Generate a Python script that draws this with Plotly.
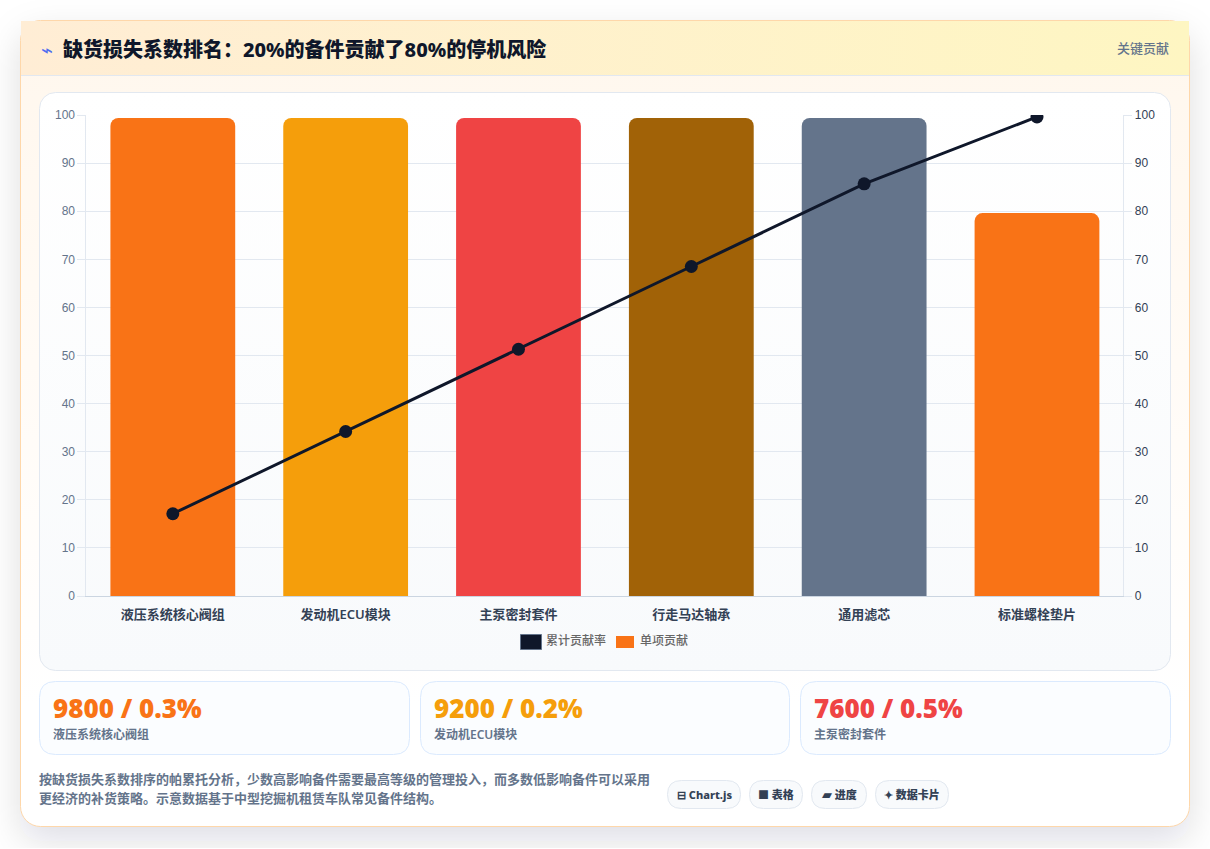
import base64
import plotly.graph_objects as go

W, H = 1210, 849

categories = ["液压系统核心阀组", "发动机ECU模块", "主泵密封套件", "行走马达轴承", "通用滤芯", "标准螺栓垫片"]
contribution = [99.4, 99.4, 99.4, 99.4, 99.4, 79.6]
cumulative = [17.1, 34.2, 51.3, 68.5, 85.7, 99.6]
bar_colors = ["#f97316", "#f59e0b", "#ef4444", "#a16207", "#64748b", "#f97316"]
y_ticks = [0, 10, 20, 30, 40, 50, 60, 70, 80, 90, 100]

kpi_values = ["9800 / 0.3%", "9200 / 0.2%", "7600 / 0.5%"]
kpi_names = ["液压系统核心阀组", "发动机ECU模块", "主泵密封套件"]
kpi_colors = ["#f97316", "#f59e0b", "#ef4444"]
kpi_boxes = [(39, 410), (420, 790), (800, 1171)]

chips = [("⊟ Chart.js", 667, 741), ("■ 表格", 749, 803),
         ("<span style='font-family:DejaVu Sans;font-size:13px'>▰</span> 进度", 811, 867), ("✦ 数据卡片", 875, 949)]
note_lines = [
    "按缺货损失系数排序的帕累托分析，少数高影响备件需要最高等级的管理投入，而多数低影响备件可以采用",
    "更经济的补货策略。示意数据基于中型挖掘机租赁车队常见备件结构。",
]

CJK = "'Noto Sans', 'Noto Sans CJK SC', sans-serif"
ARIAL = "'Liberation Sans', Arial, sans-serif"


def px(x):
    return x / W


def py(y):
    return 1 - y / H


def rounded(x0, y0, x1, y1, r):
    """Rounded rectangle as a paper-coordinate SVG path."""
    pts = [
        f"M{px(x0 + r)},{py(y0)}", f"L{px(x1 - r)},{py(y0)}",
        f"Q{px(x1)},{py(y0)} {px(x1)},{py(y0 + r)}", f"L{px(x1)},{py(y1 - r)}",
        f"Q{px(x1)},{py(y1)} {px(x1 - r)},{py(y1)}", f"L{px(x0 + r)},{py(y1)}",
        f"Q{px(x0)},{py(y1)} {px(x0)},{py(y1 - r)}", f"L{px(x0)},{py(y0 + r)}",
        f"Q{px(x0)},{py(y0)} {px(x0 + r)},{py(y0)}", "Z",
    ]
    return " ".join(pts)


# Page backdrop: drop shadow plus the gradient fills plotly shapes cannot express.
backdrop = f"""<svg xmlns='http://www.w3.org/2000/svg' width='{W}' height='{H}' viewBox='0 0 {W} {H}'>
<defs>
<filter id='s' x='-20%' y='-20%' width='140%' height='140%'><feGaussianBlur stdDeviation='18'/></filter>
<linearGradient id='card' x1='0' y1='0' x2='0' y2='1'>
<stop offset='0' stop-color='#fff7ed'/><stop offset='0.85' stop-color='#ffffff'/><stop offset='1' stop-color='#ffffff'/>
</linearGradient>
<linearGradient id='head' x1='0' y1='0' x2='1' y2='0'>
<stop offset='0' stop-color='#ffedd5'/><stop offset='1' stop-color='#fef6c2'/>
</linearGradient>
<linearGradient id='panel' x1='0' y1='0' x2='0' y2='1'>
<stop offset='0' stop-color='#ffffff'/><stop offset='1' stop-color='#f8fafc'/>
</linearGradient>
</defs>
<rect width='{W}' height='{H}' fill='#ffffff'/>
<rect x='20' y='34' width='1170' height='807' rx='20' fill='#0f172a' fill-opacity='0.13' filter='url(#s)'/>
<rect x='0' y='848' width='{W}' height='1' fill='#ffffff'/>
<rect x='20.5' y='20.5' width='1169' height='806' rx='20' fill='url(#card)' stroke='#fed7aa'/>
<rect x='21' y='21' width='1168' height='54' fill='url(#head)'/>
<rect x='39.5' y='92.5' width='1131' height='578' rx='16' fill='url(#panel)' stroke='#e2e8f0'/>
</svg>"""
backdrop_uri = "data:image/svg+xml;base64," + base64.b64encode(backdrop.encode()).decode()

shapes = [
    dict(type="line", xref="paper", yref="paper", x0=px(21), x1=px(1189), y0=py(75.5), y1=py(75.5),
         line=dict(color="#e2e8f0", width=1), layer="below"),
]
for x0, x1 in kpi_boxes:
    shapes.append(dict(type="path", xref="paper", yref="paper", path=rounded(x0 + 0.5, 681.5, x1 - 0.5, 754.5, 16),
                       fillcolor="#fbfdff", line=dict(color="#dbeafe", width=1), layer="below"))
for _, x0, x1 in chips:
    shapes.append(dict(type="path", xref="paper", yref="paper", path=rounded(x0 + 0.5, 780.5, x1 - 0.5, 808.5, 14),
                       fillcolor="#f8fafc", line=dict(color="#e2e8f0", width=1), layer="below"))

# Legend swatches sit in paper space next to their labels.
shapes.append(dict(type="rect", xref="paper", yref="paper", x0=px(520.5), x1=px(541.5), y0=py(634.5), y1=py(649.5),
                   fillcolor="#0f172a", line=dict(color="#64748b", width=1), layer="below"))
shapes.append(dict(type="rect", xref="paper", yref="paper", x0=px(616), x1=px(634), y0=py(636), y1=py(648),
                   fillcolor="#f97316", line=dict(width=0), layer="below"))


def label(text, x, y, size, color, family=CJK, weight=400, anchor="left"):
    nudge = {"left": -2, "right": 2, "center": 0}[anchor]
    return dict(text=text, x=px(x + nudge), y=py(y), xref="paper", yref="paper", showarrow=False,
                xanchor=anchor, yanchor="middle", align=anchor,
                font=dict(size=size, color=color, family=family, weight=weight))


annotations = [
    label("⌁", 41, 50, 20, "#4f6ef0", CJK, 400),
    label("缺货损失系数排名：20%的备件贡献了80%的停机风险", 63, 49.5, 20, "#0f172a", "'Noto Sans', 'Noto Sans CJK SC'", 800),
    label("关键贡献", 1169, 48, 13, "#64748b", CJK, 500, "right"),
    label("累计贡献率", 546, 640.5, 12, "#666666", CJK, 500),
    label("单项贡献", 640, 640.5, 12, "#666666", CJK, 500),
]
for (x0, _), value, name, color in zip(kpi_boxes, kpi_values, kpi_names, kpi_colors):
    annotations.append(label(value, x0 + 14, 708, 26, color, "'Noto Sans'", 900))
    annotations.append(label(name, x0 + 14, 734.5, 12, "#64748b", CJK, 600))
for text, _y in zip(note_lines, (778.5, 797.5)):
    annotations.append(label(text, 39, _y, 13, "#64748b", CJK, 600))
for text, x0, x1 in chips:
    annotations.append(label(text, (x0 + x1) / 2, 794.5, 11, "#334155", CJK, 800, "center"))

fig = go.Figure()
fig.add_trace(go.Bar(x=categories, y=contribution, name="单项贡献", marker=dict(color=bar_colors, line=dict(width=0)),
                     yaxis="y", showlegend=False))
fig.add_trace(go.Scatter(x=categories, y=cumulative, name="累计贡献率", mode="lines+markers", yaxis="y2",
                         line=dict(color="#0f172a", width=3), marker=dict(color="#0f172a", size=13),
                         showlegend=False))

fig.update_layout(
    width=W, height=H, autosize=False,
    margin=dict(l=0, r=0, t=0, b=0, pad=0),
    paper_bgcolor="rgba(0,0,0,0)", plot_bgcolor="rgba(0,0,0,0)",
    bargap=0.278, barcornerradius=8,
    showlegend=False,
    images=[dict(source=backdrop_uri, xref="paper", yref="paper", x=0, y=1, sizex=1, sizey=1,
                 sizing="stretch", xanchor="left", yanchor="top", layer="below")],
    shapes=shapes, annotations=annotations,
    xaxis=dict(domain=[px(86.4), px(1123.4)], type="category", ticks="", showgrid=False,
               showline=True, linecolor="#cbd5e1", linewidth=1, ticklabelstandoff=6,
               tickfont=dict(size=13, color="#334155", family=CJK, weight=600), automargin=False),
    yaxis=dict(domain=[py(596), py(115)], range=[0, 100], tickvals=y_ticks, showgrid=True, gridcolor="#e2e8f0",
               gridwidth=1, zeroline=False, showline=True, linecolor="#e2e8f0", ticks="outside", ticklen=8,
               tickcolor="#e2e8f0", tickfont=dict(size=12, color="#64748b", family=ARIAL), automargin=False),
    yaxis2=dict(domain=[py(596), py(115)], range=[0, 100], tickvals=y_ticks, overlaying="y", side="right", showgrid=False,
                zeroline=False, showline=True, linecolor="#e2e8f0", ticks="outside", ticklen=8, tickcolor="#e2e8f0",
                tickfont=dict(size=12, color="#334155", family=ARIAL), anchor="x", automargin=False),
)

fig.write_html("out.html", config=dict(displayModeBar=False, responsive=False))
